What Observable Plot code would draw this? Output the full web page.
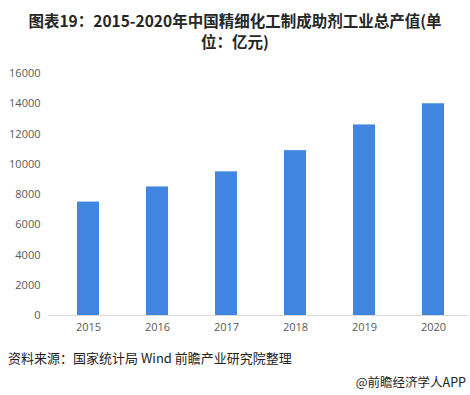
<!DOCTYPE html>
<html><head><meta charset="utf-8">
<script src="https://cdn.jsdelivr.net/npm/d3@7"></script>
<script src="https://cdn.jsdelivr.net/npm/@observablehq/plot@0.6"></script>
<style>
body{margin:0;background:#fff;width:470px;height:395px;overflow:hidden;font-family:"Noto Sans CJK SC","Noto Sans",sans-serif;}
.title{position:absolute;left:0;width:470px;text-align:center;font-weight:bold;font-size:15.5px;line-height:20px;color:#262626;white-space:nowrap;}
#t1{top:10px;} #t2{top:31px;}
#chart{position:absolute;left:0;top:60px;}
#src{position:absolute;left:8px;top:348px;font-size:13px;color:#222;}
#app{position:absolute;right:4px;top:372px;font-size:12.5px;color:#222;}
</style></head><body>
<div class="title" id="t1">图表19：2015-2020年中国精细化工制成助剂工业总产值(单</div>
<div class="title" id="t2">位：亿元)</div>
<div id="chart"></div>
<div id="src">资料来源：国家统计局 Wind 前瞻产业研究院整理</div>
<div id="app">@前瞻经济学人APP</div>
<script>
const years = ["2015","2016","2017","2018","2019","2020"];
const values = [7500, 8500, 9500, 10900, 12600, 14000];
const yTicks = [0,2000,4000,6000,8000,10000,12000,14000,16000];
const data = years.map((y,i)=>({year:y,value:values[i]}));
const chart = Plot.plot({
  width:470, height:285,
  marginLeft:52, marginRight:2, marginTop:13, marginBottom:30,
  style:{fontFamily:"'Open Sans','Noto Sans',sans-serif",fontSize:"11px",color:"#595959",background:"transparent"},
  x:{domain:years,paddingInner:0.685,paddingOuter:0.35,label:null,tickSize:0,tickPadding:8},
  y:{domain:[0,16000],ticks:yTicks,label:null,tickSize:0,tickPadding:12,tickFormat:d=>String(d)},
  marks:[
    Plot.barY(data,{x:"year",y:"value",fill:"#4086e0"}),
    Plot.ruleY([0],{stroke:"#d9d9d9",strokeWidth:1,insetLeft:-4})
  ]
});
document.getElementById("chart").appendChild(chart);
</script>
</body></html>
